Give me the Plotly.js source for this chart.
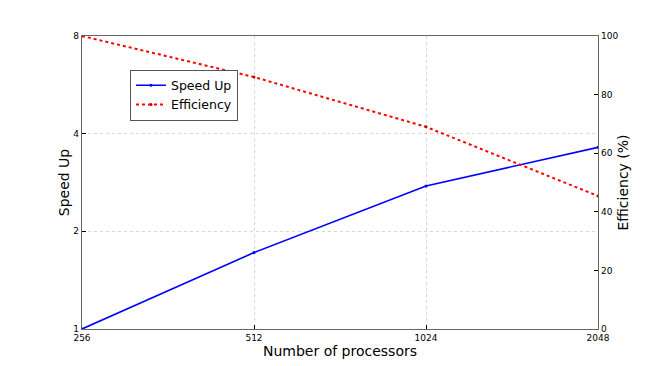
<!DOCTYPE html>
<html>
<head>
<meta charset="utf-8">
<script src="https://cdn.plot.ly/plotly-3.0.1.min.js"></script>
<style>
  body { margin: 0; background: #fff; }
  #chart { width: 664px; height: 366px; }
</style>
</head>
<body>
<div id="chart"></div>
<script>
// Values
const processors = [256, 512, 1024, 2048];
const speedUp = [1.0, 1.72, 2.76, 3.63];
const efficiency = [100, 86, 69, 45.4];
const speedTicks = [1, 2, 4, 8];

const tickFont = {family: "DejaVu Sans", size: 9, color: "#000"};
const titleFont = {family: "DejaVu Sans", size: 14, color: "#000"};

let traces = [];
traces.push({
    x: processors, y: speedUp, name: "Speed Up",
    mode: "lines+markers", yaxis: "y",
    line: {color: "#0000ff", width: 1.6},
    marker: {color: "#0000ff", size: 3}
});
traces.push({
    x: processors, y: efficiency, name: "Efficiency",
    mode: "lines+markers", yaxis: "y2",
    line: {color: "#ff0000", width: 2, dash: "dot"},
    marker: {color: "#cc0000", size: 3}
});

const layout = {
    width: 664, height: 366,
    margin: {l: 82, r: 66, t: 36, b: 37},
    paper_bgcolor: "#fff", plot_bgcolor: "#fff",
    showlegend: true,
    legend: {
        x: 0.093, y: 0.885, xanchor: "left", yanchor: "top",
        bordercolor: "#555", borderwidth: 1, bgcolor: "#fff",
        font: {family: "DejaVu Sans", size: 12.5, color: "#000"},
        tracegroupgap: 0, itemwidth: 30
    },
    xaxis: {
        type: "log",
        range: [Math.log10(256), Math.log10(2048)],
        tickvals: processors, ticktext: processors.map(String),
        tickfont: tickFont,
        ticks: "inside", ticklen: 4, tickcolor: "#000",
        showline: true, linecolor: "#666", linewidth: 1.2, mirror: true,
        showgrid: true, gridcolor: "#c4c4c4", griddash: "dot", gridwidth: 0.7,
        zeroline: false,
        title: {text: "Number of processors", font: titleFont, standoff: 0}
    },
    yaxis: {
        type: "log",
        range: [0, Math.log10(8)],
        tickvals: speedTicks, ticktext: speedTicks.map(String),
        tickfont: tickFont,
        ticks: "inside", ticklen: 4, tickcolor: "#000",
        showline: true, linecolor: "#666", linewidth: 1.2,
        showgrid: true, gridcolor: "#c4c4c4", griddash: "dot", gridwidth: 0.7,
        zeroline: false,
        title: {text: "Speed Up", font: titleFont, standoff: 0}
    },
    yaxis2: {
        overlaying: "y", side: "right",
        range: [0, 100], dtick: 20,
        tickfont: tickFont,
        ticks: "inside", ticklen: 4, tickcolor: "#000",
        showline: true, linecolor: "#666", linewidth: 1.2,
        showgrid: false, zeroline: false,
        title: {text: "Efficiency (%)", font: titleFont, standoff: 0}
    }
};

Plotly.newPlot("chart", traces, layout, {staticPlot: true});
</script>
</body>
</html>
